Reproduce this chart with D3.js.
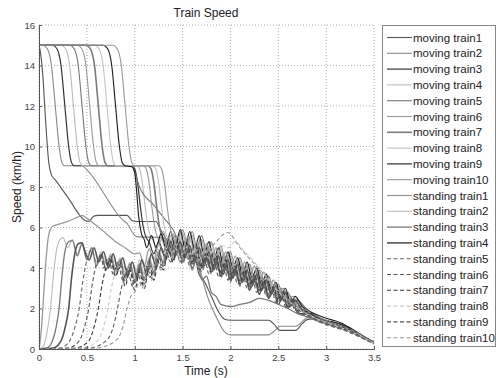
<!DOCTYPE html>
<html><head><meta charset="utf-8">
<script src="https://cdn.jsdelivr.net/npm/d3@7"></script>
<style>body{margin:0;background:#fff}svg text{font-family:"Liberation Sans",Arial,sans-serif}</style>
</head><body>
<script>
const title = "Train Speed";
const xLabel = "Time (s)";
const yLabel = "Speed (km/h)";
const xTicks = [0, 0.5, 1, 1.5, 2, 2.5, 3, 3.5];
const yTicks = [0, 2, 4, 6, 8, 10, 12, 14, 16];
const seriesNames = ["moving train1","moving train2","moving train3","moving train4","moving train5","moving train6","moving train7","moving train8","moving train9","moving train10","standing train1","standing train2","standing train3","standing train4","standing train5","standing train6","standing train7","standing train8","standing train9","standing train10"];

const moving1 = [[0,15],[0.01,14.8],[0.04,13.5],[0.07,11.2],[0.1,9.3],[0.13,8.6],[0.17,8.35],[0.3,7.5],[0.48,6.35],[0.52,6.3],[0.57,6.55],[0.62,6.6],[0.92,6.6],[0.97,6.35],[1.02,6.3],[1.22,6.3],[1.27,5.9],[1.32,5.5],[1.37,5.2],[1.42,5.6],[1.47,4.8],[1.52,5.3],[1.57,4.4],[1.62,4.7],[1.67,3.7],[1.72,3.4],[1.8,2.6],[1.88,1.8],[1.94,1.47],[2.0,1.42],[2.4,1.42],[2.45,1.25],[2.52,0.92],[2.68,0.92],[2.75,1.25],[2.8,1.45],[2.9,1.5],[3.0,1.4],[3.1,1.3],[3.2,1.15],[3.3,0.85],[3.4,0.6],[3.5,0.35]];
const moving2 = [[0,15],[0.04,15],[0.09,14.8],[0.13,14.0],[0.17,12.0],[0.21,10.0],[0.24,9.2],[0.27,9.05],[0.45,9.05],[0.5,8.85],[0.88,6.35],[0.92,6.2],[0.97,5.8],[1.02,5.55],[1.3,5.5],[1.35,5.2],[1.40,4.6],[1.45,5.2],[1.50,4.3],[1.55,4.9],[1.60,4.0],[1.65,4.5],[1.70,3.6],[1.76,2.6],[1.85,1.6],[1.93,0.9],[1.98,0.72],[2.0,0.7],[2.4,0.7],[2.45,0.85],[2.52,1.12],[2.68,1.12],[2.75,1.35],[2.8,1.55],[2.9,1.5],[3.0,1.3],[3.1,1.15],[3.2,1.0],[3.3,0.8],[3.4,0.55],[3.5,0.3]];
const moving3 = [[0,15],[0.14,15],[0.19,14.8],[0.23,14.0],[0.27,12.0],[0.31,10.0],[0.34,9.2],[0.37,9.05],[0.97,9.05],[1.0,8.9],[1.03,8.2],[1.06,7.0],[1.09,6.0],[1.12,5.5],[1.15,5.3],[1.20,4.7],[1.25,5.3],[1.30,4.8],[1.35,5.4],[1.40,4.7],[1.45,5.3],[1.50,4.5],[1.55,5.1],[1.60,4.2],[1.65,4.8],[1.70,4.0],[1.75,4.6],[1.80,3.8],[1.85,4.4],[1.90,3.6],[1.95,4.2],[2.00,3.4],[2.05,3.9],[2.10,3.2],[2.15,3.7],[2.20,2.9],[2.25,3.5],[2.30,2.7],[2.35,3.2],[2.40,2.5],[2.45,2.9],[2.50,2.2],[2.55,2.6],[2.60,2.0],[2.65,2.3],[2.70,1.8],[2.80,1.7],[2.90,1.5],[3.0,1.4],[3.1,1.3],[3.2,1.1],[3.3,0.85],[3.4,0.55],[3.5,0.3]];
const moving4 = [[0,15],[0.23,15],[0.28,14.8],[0.32,14.0],[0.36,12.0],[0.40,10.0],[0.43,9.2],[0.46,9.05],[1.02,9.05],[1.05,8.9],[1.08,8.2],[1.11,7.0],[1.14,6.0],[1.17,5.5],[1.2,5.3],[1.225,4.9],[1.275,5.5],[1.325,4.9],[1.375,5.6],[1.425,4.9],[1.475,5.6],[1.525,4.8],[1.575,5.5],[1.625,4.6],[1.675,5.3],[1.725,4.4],[1.775,5.1],[1.825,4.2],[1.875,4.9],[1.925,4.0],[1.975,4.7],[2.025,3.8],[2.075,4.4],[2.125,3.6],[2.175,4.2],[2.225,3.4],[2.275,3.9],[2.325,3.1],[2.375,3.6],[2.425,2.8],[2.475,3.3],[2.525,2.5],[2.575,2.9],[2.625,2.2],[2.675,2.5],[2.75,2.0],[2.85,1.7],[2.95,1.45],[3.05,1.25],[3.15,1.05],[3.25,0.88],[3.35,0.66],[3.45,0.4],[3.5,0.27]];
const moving5 = [[0,15],[0.32,15],[0.37,14.8],[0.41,14.0],[0.45,12.0],[0.49,10.0],[0.52,9.2],[0.55,9.05],[0.97,9.05],[1.01,8.6],[1.05,8.0],[1.2,7.1],[1.3,6.5],[1.4,5.9],[1.45,5.5],[1.50,5.9],[1.55,5.2],[1.60,5.8],[1.65,5.0],[1.70,5.6],[1.75,4.8],[1.80,5.3],[1.85,4.5],[1.90,5.1],[1.95,4.3],[2.00,4.8],[2.05,4.0],[2.10,4.5],[2.15,3.8],[2.20,4.2],[2.25,3.5],[2.30,3.9],[2.35,3.2],[2.40,3.6],[2.45,2.9],[2.50,3.2],[2.55,2.6],[2.60,2.8],[2.65,2.3],[2.70,2.4],[2.80,1.95],[2.90,1.6],[3.0,1.4],[3.1,1.2],[3.2,1.0],[3.3,0.8],[3.4,0.5],[3.5,0.28]];
const moving6 = [[0,15],[0.40,15],[0.45,14.8],[0.49,14.0],[0.53,12.0],[0.57,10.0],[0.60,9.2],[0.63,9.05],[1.09,9.05],[1.12,8.9],[1.15,8.2],[1.18,7.0],[1.21,6.0],[1.24,5.5],[1.27,5.3],[1.30,5.8],[1.35,5.0],[1.40,5.7],[1.45,4.9],[1.50,5.7],[1.55,4.9],[1.60,5.6],[1.65,4.7],[1.70,5.4],[1.75,4.5],[1.80,5.2],[1.85,4.3],[1.90,4.9],[1.95,4.1],[2.00,4.6],[2.05,3.9],[2.10,4.3],[2.15,3.6],[2.20,4.1],[2.25,3.3],[2.30,3.8],[2.35,3.0],[2.40,3.5],[2.45,2.7],[2.50,3.1],[2.55,2.4],[2.60,2.7],[2.65,2.2],[2.70,2.3],[2.80,1.9],[2.90,1.6],[3.0,1.4],[3.1,1.2],[3.2,1.05],[3.3,0.82],[3.4,0.55],[3.5,0.3]];
const moving7 = [[0,15],[0.49,15],[0.54,14.8],[0.58,14.0],[0.62,12.0],[0.66,10.0],[0.69,9.2],[0.72,9.05],[1.14,9.05],[1.17,8.9],[1.2,8.2],[1.23,7.0],[1.26,6.0],[1.29,5.5],[1.32,5.3],[1.375,4.7],[1.425,5.4],[1.475,4.6],[1.525,5.3],[1.575,4.4],[1.625,5.2],[1.675,4.3],[1.725,5.0],[1.775,4.1],[1.825,4.8],[1.875,3.9],[1.925,4.6],[1.975,3.7],[2.025,4.3],[2.075,3.5],[2.125,4.1],[2.175,3.3],[2.225,3.8],[2.275,3.1],[2.325,3.6],[2.375,2.8],[2.425,3.3],[2.475,2.6],[2.525,3.0],[2.575,2.3],[2.625,2.6],[2.675,2.1],[2.75,2.1],[2.85,1.75],[2.95,1.5],[3.05,1.3],[3.15,1.12],[3.25,0.95],[3.35,0.72],[3.45,0.45],[3.5,0.3]];
const moving8 = [[0,15],[0.58,15],[0.63,14.8],[0.67,14.0],[0.71,12.0],[0.75,10.0],[0.78,9.2],[0.81,9.05],[1.19,9.05],[1.22,8.9],[1.25,8.2],[1.28,7.0],[1.31,6.0],[1.34,5.5],[1.37,5.3],[1.40,5.7],[1.45,5.0],[1.50,5.8],[1.55,5.0],[1.60,5.6],[1.65,4.8],[1.70,5.4],[1.75,4.6],[1.80,5.2],[1.85,4.4],[1.90,5.0],[1.95,4.2],[2.00,4.7],[2.05,3.9],[2.10,4.4],[2.15,3.7],[2.20,4.1],[2.25,3.4],[2.30,3.8],[2.35,3.1],[2.40,3.5],[2.45,2.8],[2.50,3.1],[2.55,2.5],[2.60,2.7],[2.65,2.2],[2.70,2.3],[2.80,1.9],[2.90,1.55],[3.0,1.35],[3.1,1.15],[3.2,1.0],[3.3,0.78],[3.4,0.5],[3.5,0.27]];
const moving9 = [[0,15],[0.67,15],[0.72,14.8],[0.76,14.0],[0.80,12.0],[0.84,10.0],[0.87,9.2],[0.9,9.05],[0.97,9.0],[1.0,8.7],[1.02,7.8],[1.04,6.6],[1.07,5.7],[1.1,5.4],[1.125,5.0],[1.175,5.6],[1.225,5.0],[1.275,5.7],[1.325,5.0],[1.375,5.8],[1.425,5.0],[1.475,5.9],[1.525,5.0],[1.575,5.8],[1.625,4.9],[1.675,5.6],[1.725,4.6],[1.775,5.3],[1.825,4.4],[1.875,5.0],[1.925,4.2],[1.975,4.8],[2.025,4.0],[2.075,4.5],[2.125,3.7],[2.175,4.3],[2.225,3.5],[2.275,4.0],[2.325,3.2],[2.375,3.7],[2.425,2.9],[2.475,3.3],[2.525,2.6],[2.575,3.0],[2.625,2.3],[2.675,2.6],[2.75,2.1],[2.85,1.8],[2.95,1.6],[3.05,1.45],[3.15,1.3],[3.25,1.05],[3.35,0.75],[3.45,0.45],[3.5,0.3]];
const moving10 = [[0,15],[0.77,15],[0.82,14.8],[0.86,14.0],[0.90,12.0],[0.94,10.0],[0.97,9.2],[1.0,9.05],[1.25,9.05],[1.28,8.9],[1.31,8.2],[1.34,7.0],[1.37,6.0],[1.4,5.5],[1.43,5.2],[1.50,4.5],[1.55,5.1],[1.60,4.3],[1.65,5.0],[1.70,4.2],[1.75,4.9],[1.80,4.0],[1.85,4.7],[1.90,3.8],[1.95,4.5],[2.00,3.6],[2.05,4.2],[2.10,3.4],[2.15,4.0],[2.20,3.2],[2.25,3.7],[2.30,3.0],[2.35,3.5],[2.40,2.7],[2.45,3.2],[2.50,2.5],[2.55,2.8],[2.60,2.2],[2.65,2.5],[2.70,2.0],[2.80,1.8],[2.90,1.5],[3.0,1.3],[3.1,1.15],[3.2,1.0],[3.3,0.8],[3.4,0.52],[3.5,0.28]];

const standing1 = [[0,0],[0.01,0.3],[0.025,1.0],[0.04,2.0],[0.07,4.2],[0.1,5.6],[0.14,6.05],[0.2,6.15],[0.3,6.3],[0.4,6.5],[0.45,6.6],[0.5,6.45],[0.6,6.1],[0.7,5.7],[0.8,5.3],[0.9,5.0],[1.0,4.7],[1.05,4.75],[1.10,4.1],[1.15,4.95],[1.20,4.4],[1.25,5.2],[1.30,4.7],[1.35,5.5],[1.40,4.9],[1.45,5.6],[1.50,4.8],[1.55,5.5],[1.60,4.6],[1.65,5.3],[1.70,4.5],[1.75,5.2],[1.80,4.3],[1.85,5.0],[1.90,4.1],[1.95,4.8],[2.00,3.9],[2.05,4.6],[2.10,3.7],[2.15,4.3],[2.20,3.5],[2.25,4.1],[2.30,3.3],[2.35,3.8],[2.40,3.0],[2.45,3.4],[2.50,2.7],[2.55,3.0],[2.60,2.4],[2.65,2.6],[2.70,2.1],[2.80,1.9],[2.90,1.55],[3.00,1.4],[3.10,1.2],[3.20,1.05],[3.30,0.85],[3.40,0.6],[3.50,0.35]];
const standing2 = [[0,0],[0.04,0.1],[0.07,0.5],[0.1,1.3],[0.12,2.0],[0.15,3.6],[0.18,4.8],[0.22,5.4],[0.25,5.5],[0.30,5.0],[0.35,5.4],[0.40,4.7],[0.45,5.2],[0.50,4.5],[0.55,5.0],[0.60,4.3],[0.65,4.8],[0.70,4.2],[0.75,4.7],[0.80,4.0],[0.85,4.5],[0.90,3.7],[0.95,4.3],[1.00,3.6],[1.05,4.4],[1.10,3.7],[1.15,4.5],[1.20,4.0],[1.25,4.9],[1.30,4.3],[1.35,5.1],[1.40,4.6],[1.45,5.2],[1.50,4.4],[1.55,5.0],[1.60,4.2],[1.65,4.9],[1.70,4.1],[1.75,4.8],[1.80,3.9],[1.85,4.6],[1.90,3.7],[1.95,4.4],[2.00,3.5],[2.05,4.2],[2.10,3.3],[2.15,3.9],[2.20,3.1],[2.25,3.7],[2.30,2.9],[2.35,3.4],[2.40,2.7],[2.45,3.1],[2.50,2.4],[2.55,2.8],[2.60,2.1],[2.65,2.4],[2.70,1.9],[2.80,1.8],[2.90,1.45],[3.00,1.3],[3.10,1.1],[3.20,0.95],[3.30,0.75],[3.40,0.5],[3.50,0.28]];
const standing3 = [[0,0],[0.08,0.05],[0.14,0.4],[0.18,1.1],[0.21,2.0],[0.24,3.6],[0.27,4.8],[0.31,5.3],[0.35,5.35],[0.40,4.6],[0.45,5.2],[0.50,4.4],[0.55,5.0],[0.60,4.1],[0.65,4.7],[0.70,3.9],[0.75,4.6],[0.80,3.8],[0.85,4.4],[0.90,3.5],[0.95,4.2],[1.00,3.4],[1.05,4.2],[1.10,3.5],[1.15,4.4],[1.20,3.8],[1.25,4.8],[1.30,4.2],[1.35,5.0],[1.40,4.4],[1.45,5.1],[1.50,4.3],[1.55,4.9],[1.60,3.9],[1.65,4.5],[1.70,3.4],[1.75,3.6],[1.80,2.8],[1.85,2.6],[1.90,2.2],[2.00,2.1],[2.10,2.2],[2.20,2.3],[2.30,2.5],[2.40,2.4],[2.50,2.2],[2.60,2.0],[2.70,1.75],[2.80,1.6],[2.90,1.4],[3.00,1.25],[3.10,1.1],[3.20,0.95],[3.30,0.75],[3.40,0.52],[3.50,0.3]];
const standing4 = [[0,0],[0.15,0.05],[0.23,0.4],[0.27,1.0],[0.31,2.0],[0.34,3.5],[0.37,4.6],[0.41,5.2],[0.45,5.25],[0.475,4.9],[0.525,4.4],[0.575,5.0],[0.625,4.3],[0.675,4.8],[0.725,4.0],[0.775,4.7],[0.825,3.9],[0.875,4.5],[0.925,3.6],[0.975,4.3],[1.025,3.5],[1.075,4.4],[1.125,3.7],[1.175,4.7],[1.225,4.0],[1.275,5.0],[1.325,4.4],[1.375,5.3],[1.425,4.6],[1.475,5.3],[1.525,4.5],[1.575,5.1],[1.625,4.3],[1.675,5.0],[1.725,4.1],[1.775,4.8],[1.825,3.9],[1.875,4.6],[1.925,3.7],[1.975,4.4],[2.025,3.5],[2.075,4.2],[2.125,3.3],[2.175,3.9],[2.225,3.1],[2.275,3.7],[2.325,2.9],[2.375,3.4],[2.425,2.7],[2.475,3.1],[2.525,2.4],[2.575,2.8],[2.625,2.1],[2.675,2.4],[2.75,1.9],[2.85,1.7],[2.95,1.45],[3.05,1.3],[3.15,1.1],[3.25,0.95],[3.35,0.72],[3.45,0.45],[3.50,0.32]];
const standing5 = [[0,0],[0.22,0.05],[0.32,0.4],[0.37,1.0],[0.42,2.0],[0.46,3.4],[0.5,4.4],[0.55,4.9],[0.60,4.2],[0.65,4.7],[0.70,3.9],[0.75,4.4],[0.80,3.6],[0.85,4.2],[0.90,3.3],[0.95,4.0],[1.00,3.2],[1.05,4.0],[1.10,3.4],[1.15,4.2],[1.20,3.7],[1.25,4.6],[1.30,4.1],[1.35,5.0],[1.40,4.3],[1.45,5.0],[1.50,4.2],[1.55,4.8],[1.60,4.0],[1.65,4.7],[1.70,3.8],[1.75,4.5],[1.80,3.7],[1.85,4.4],[1.90,3.5],[1.95,4.2],[2.00,3.3],[2.05,4.0],[2.10,3.1],[2.15,3.8],[2.20,2.9],[2.25,3.6],[2.30,2.7],[2.35,3.3],[2.40,2.5],[2.45,3.0],[2.50,2.3],[2.55,2.7],[2.60,2.0],[2.65,2.3],[2.70,1.8],[2.80,1.65],[2.90,1.4],[3.00,1.2],[3.10,1.05],[3.20,0.9],[3.30,0.7],[3.40,0.48],[3.50,0.25]];
const standing6 = [[0,0],[0.3,0.05],[0.42,0.4],[0.47,1.0],[0.52,2.0],[0.56,3.3],[0.6,4.2],[0.65,4.6],[0.675,4.0],[0.725,4.5],[0.775,3.7],[0.825,4.3],[0.875,3.4],[0.925,4.0],[0.975,3.1],[1.025,3.9],[1.075,3.2],[1.125,4.1],[1.175,3.5],[1.225,4.5],[1.275,4.0],[1.325,4.9],[1.375,4.3],[1.425,5.0],[1.475,4.3],[1.525,4.9],[1.575,4.1],[1.625,4.7],[1.675,3.9],[1.725,4.6],[1.775,3.7],[1.825,4.4],[1.875,3.6],[1.925,4.2],[1.975,3.4],[2.025,4.0],[2.075,3.2],[2.125,3.8],[2.175,3.0],[2.225,3.6],[2.275,2.8],[2.325,3.4],[2.375,2.6],[2.425,3.1],[2.475,2.3],[2.525,2.8],[2.575,2.1],[2.625,2.5],[2.675,1.9],[2.75,1.95],[2.85,1.6],[2.95,1.4],[3.05,1.25],[3.15,1.1],[3.25,0.92],[3.35,0.7],[3.45,0.45],[3.50,0.3]];
const standing7 = [[0,0],[0.38,0.05],[0.52,0.4],[0.57,1.0],[0.62,2.0],[0.66,3.2],[0.7,4.0],[0.75,4.4],[0.80,3.6],[0.85,4.1],[0.90,3.1],[0.95,3.9],[1.00,2.9],[1.05,3.8],[1.10,3.0],[1.15,4.0],[1.20,3.4],[1.25,4.4],[1.30,3.9],[1.35,4.9],[1.40,4.3],[1.45,5.1],[1.50,4.4],[1.55,5.2],[1.60,4.3],[1.65,5.0],[1.70,4.1],[1.75,4.8],[1.80,3.9],[1.85,4.6],[1.90,3.7],[1.95,4.4],[2.00,3.5],[2.05,4.1],[2.10,3.3],[2.15,3.9],[2.20,3.1],[2.25,3.7],[2.30,2.9],[2.35,3.4],[2.40,2.6],[2.45,3.1],[2.50,2.4],[2.55,2.8],[2.60,2.1],[2.65,2.5],[2.70,1.9],[2.80,1.85],[2.90,1.55],[3.00,1.35],[3.10,1.2],[3.20,1.05],[3.30,0.85],[3.40,0.55],[3.50,0.3]];
const standing8 = [[0,0],[0.45,0.05],[0.61,0.4],[0.67,1.0],[0.72,2.0],[0.76,3.1],[0.8,3.8],[0.85,4.1],[0.875,3.7],[0.925,4.0],[0.975,3.3],[1.025,3.9],[1.075,3.4],[1.125,4.2],[1.175,3.8],[1.225,4.6],[1.275,4.2],[1.325,4.9],[1.375,4.5],[1.425,5.0],[1.475,4.5],[1.525,5.1],[1.575,4.4],[1.625,5.0],[1.675,4.4],[1.725,4.9],[1.775,4.5],[1.825,5.0],[1.875,4.8],[1.925,5.1],[1.975,5.0],[2.05,5.3],[2.15,4.8],[2.25,4.3],[2.35,3.7],[2.45,3.1],[2.55,2.6],[2.65,2.2],[2.75,1.85],[2.85,1.6],[2.95,1.4],[3.05,1.25],[3.15,1.05],[3.25,0.88],[3.35,0.68],[3.45,0.42],[3.50,0.28]];
const standing9 = [[0,0],[0.52,0.05],[0.7,0.4],[0.77,1.0],[0.82,2.0],[0.86,3.0],[0.9,3.6],[0.95,3.9],[1.00,3.3],[1.05,4.0],[1.10,3.2],[1.15,4.1],[1.20,3.6],[1.25,4.5],[1.30,4.1],[1.35,4.8],[1.40,4.4],[1.45,5.0],[1.50,4.5],[1.55,5.0],[1.60,4.2],[1.65,4.8],[1.70,4.0],[1.75,4.7],[1.80,3.8],[1.85,4.5],[1.90,3.6],[1.95,4.3],[2.00,3.4],[2.05,4.0],[2.10,3.2],[2.15,3.8],[2.20,3.0],[2.25,3.6],[2.30,2.8],[2.35,3.3],[2.40,2.6],[2.45,3.0],[2.50,2.3],[2.55,2.7],[2.60,2.1],[2.65,2.4],[2.70,1.9],[2.80,1.7],[2.90,1.45],[3.00,1.25],[3.10,1.1],[3.20,0.95],[3.30,0.78],[3.40,0.5],[3.50,0.27]];
const standing10 = [[0,0],[0.6,0.05],[0.8,0.4],[0.87,1.0],[0.92,2.0],[0.96,2.6],[1.0,2.8],[1.05,3.3],[1.075,3.0],[1.125,3.8],[1.175,3.4],[1.225,4.3],[1.275,3.9],[1.325,4.7],[1.375,4.3],[1.425,4.9],[1.475,4.3],[1.525,4.8],[1.575,4.2],[1.625,4.7],[1.675,4.3],[1.725,4.8],[1.775,4.9],[1.85,5.3],[1.97,5.75],[2.1,5.0],[2.2,4.45],[2.3,3.95],[2.4,3.4],[2.5,2.9],[2.6,2.45],[2.7,2.05],[2.8,1.75],[2.9,1.5],[3.0,1.35],[3.1,1.2],[3.2,1.05],[3.3,0.85],[3.4,0.55],[3.5,0.3]];

const seriesData = [moving1,moving2,moving3,moving4,moving5,moving6,moving7,moving8,moving9,moving10,standing1,standing2,standing3,standing4,standing5,standing6,standing7,standing8,standing9,standing10];
const seriesColor = ["#555","#888","#333","#bbb","#777","#999","#7a7a7a","#c4c4c4","#1a1a1a","#999","#999","#bbb","#777","#555","#666","#555","#333","#ccc","#555","#999"];
const seriesWidth = [1.1,1.1,1.2,1.1,1.1,1.1,1.6,1.1,1.1,1.1,1.3,1.1,1.3,1.6,1.1,1.1,1.1,1.1,1.1,1.1];
const seriesDash = [null,null,null,null,null,null,null,null,null,null,null,null,null,null,"4,2.5","4,2.5","4,2.5","4,2.5","4,2.5","4,2.5"];

const W = 501, H = 378;
const m = {l: 39, r: 374, t: 25, b: 349};
const svg = d3.select("body").append("svg").attr("width", W).attr("height", H);
const x = d3.scaleLinear().domain([0, 3.5]).range([m.l, m.r]);
const y = d3.scaleLinear().domain([0, 16]).range([m.b, m.t]);

// grid
const g = svg.append("g");
g.selectAll(".vg").data(xTicks).enter().append("line")
  .attr("x1", d => x(d)).attr("x2", d => x(d)).attr("y1", m.t).attr("y2", m.b)
  .attr("stroke", "#999").attr("stroke-width", 0.8).attr("stroke-dasharray", "1,2");
g.selectAll(".hg").data(yTicks).enter().append("line")
  .attr("y1", d => y(d)).attr("y2", d => y(d)).attr("x1", m.l).attr("x2", m.r)
  .attr("stroke", "#999").attr("stroke-width", 0.8).attr("stroke-dasharray", "1,2");

// lines
const line = d3.line().x(d => x(d[0])).y(d => y(d[1])).curve(d3.curveMonotoneX);
const clip = svg.append("clipPath").attr("id", "c").append("rect")
  .attr("x", m.l).attr("y", m.t).attr("width", m.r - m.l).attr("height", m.b - m.t);
const lg = svg.append("g").attr("clip-path", "url(#c)");
seriesData.forEach((s, i) => {
  lg.append("path").attr("d", line(s)).attr("fill", "none")
    .attr("stroke", seriesColor[i]).attr("stroke-width", seriesWidth[i])
    .attr("stroke-dasharray", seriesDash[i]);
});

// axes
const xAxis = d3.axisBottom(x).tickValues(xTicks).tickSize(-3).tickPadding(5).tickFormat(d3.format("~g"));
const yAxis = d3.axisLeft(y).tickValues(yTicks).tickSize(-3).tickPadding(4).tickFormat(d3.format("~g"));
const ax = svg.append("g").attr("transform", `translate(0,${m.b})`).call(xAxis);
const ay = svg.append("g").attr("transform", `translate(${m.l},0)`).call(yAxis);
[ax, ay].forEach(a => {
  a.select(".domain").attr("stroke", "#555");
  a.selectAll(".tick line").attr("stroke", "#555");
  a.selectAll("text").attr("font-size", 9.5).attr("fill", "#444");
});

// titles
svg.append("text").attr("x", 206).attr("y", 17).attr("text-anchor", "middle")
  .attr("font-size", 12).attr("fill", "#222").text(title);
svg.append("text").attr("x", 206).attr("y", 375).attr("text-anchor", "middle")
  .attr("font-size", 12).attr("fill", "#222").text(xLabel);
svg.append("text").attr("transform", `translate(21,${(m.t + m.b) / 2}) rotate(-90)`)
  .attr("text-anchor", "middle").attr("font-size", 12).attr("fill", "#222").text(yLabel);

// legend
const leg = svg.append("g");
leg.append("rect").attr("x", 382.5).attr("y", 25.5).attr("width", 113).attr("height", 321)
  .attr("fill", "#fff").attr("stroke", "#888").attr("stroke-width", 1);
seriesNames.forEach((n, i) => {
  const yy = 37.5 + i * 15.8;
  leg.append("line").attr("x1", 387).attr("x2", 412).attr("y1", yy).attr("y2", yy)
    .attr("stroke", seriesColor[i]).attr("stroke-width", seriesWidth[i])
    .attr("stroke-dasharray", seriesDash[i]);
  leg.append("text").attr("x", 413).attr("y", yy + 4).attr("font-size", 11.5)
    .attr("fill", "#222").text(n);
});
</script>
</body></html>
